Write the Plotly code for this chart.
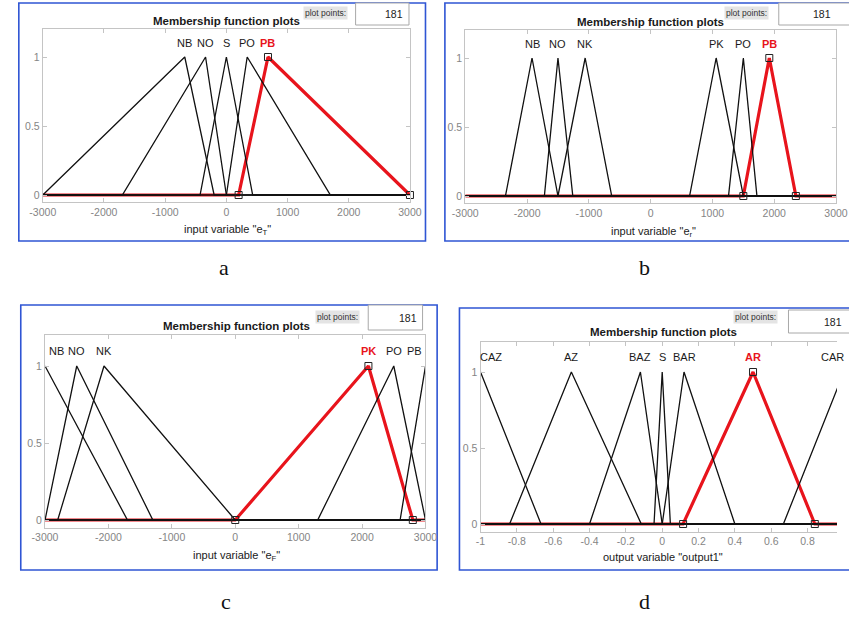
import plotly.graph_objects as go

FIG_W, FIG_H = 849, 621

# ---------------- membership functions: [left foot, peak, right foot] ----------------
a_names = ["NB", "NO", "S", "PO", "PB"]
a_mf = [[-3000, -680, -200], [-1700, -340, 0], [-430, 0, 430], [0, 340, 1700], [200, 680, 3000]]
a_label_x = [-680, -340, 0, 340, 680]
a_span = [-3000, 3000]
a_selected = "PB"
a_xlabel = 'input variable "e<sub>T</sub>"'
a_xticks = [-3000, -2000, -1000, 0, 1000, 2000, 3000]
a_xticktext = ["-3000", "-2000", "-1000", "0", "1000", "2000", "3000"]

b_names = ["NB", "NO", "NK", "PK", "PO", "PB"]
b_mf = [[-2350, -1920, -1500], [-1720, -1500, -1260], [-1500, -1060, -630],
        [630, 1060, 1500], [1260, 1500, 1720], [1500, 1920, 2350]]
b_label_x = [-1920, -1500, -1060, 1060, 1500, 1920]
b_span = [-3000, 3000]
b_selected = "PB"
b_xlabel = 'input variable "e<sub>r</sub>"'
b_xticks = [-3000, -2000, -1000, 0, 1000, 2000, 3000]
b_xticktext = ["-3000", "-2000", "-1000", "0", "1000", "2000", "3000"]

c_names = ["NB", "NO", "NK", "PK", "PO", "PB"]
c_mf = [[-3000, -3000, -1700], [-3000, -2500, -1300], [-2800, -2070, 0],
        [0, 2100, 2800], [1300, 2500, 3000], [2600, 3000, 3000]]
c_label_x = [-2820, -2500, -2070, 2100, 2500, 2820]
c_span = [-3000, 3000]
c_selected = "PK"
c_xlabel = 'input variable "e<sub>F</sub>"'
c_xticks = [-3000, -2000, -1000, 0, 1000, 2000, 3000]
c_xticktext = ["-3000", "-2000", "-1000", "0", "1000", "2000", "3000"]

d_names = ["CAZ", "AZ", "BAZ", "S", "BAR", "AR", "CAR"]
d_mf = [[-1, -1, -0.667], [-0.84, -0.5, -0.115], [-0.4, -0.12, 0], [-0.045, 0, 0.045],
        [0, 0.12, 0.4], [0.115, 0.5, 0.84], [0.667, 1, 1]]
d_label_x = [-0.94, -0.5, -0.12, 0, 0.12, 0.5, 0.94]
d_span = [-1, 1]
d_selected = "AR"
d_xlabel = 'output variable "output1"'
d_xticks = [-1, -0.8, -0.6, -0.4, -0.2, 0, 0.2, 0.4, 0.6, 0.8, 1]
d_xticktext = ["-1", "-0.8", "-0.6", "-0.4", "-0.2", "0", "0.2", "0.4", "0.6", "0.8", "1"]

y_ticks = [0, 0.5, 1]
y_ticktext = ["0", "0.5", "1"]
plot_points = "181"
panel_letters = ["a", "b", "c", "d"]

# ---------------- geometry (pixels) ----------------
def fx(p):
    return p / FIG_W


def fy(p):
    return 1 - p / FIG_H


panels = [
    dict(names=a_names, mf=a_mf, lx=a_label_x, span=a_span, sel=a_selected, xlabel=a_xlabel,
         xt=a_xticks, xtt=a_xticktext, view=a_span,
         ax=(30.7, 409), ay=(29.4, 201.9), box=(6, 3, 425, 241),
         title=(220, 21), pp=(322, 13.5), ppbox=(353, 3, 408, 25), ppnum=404,
         xl=(221, 230), letter=(217, 268), mirror_y=True),
    dict(names=b_names, mf=b_mf, lx=b_label_x, span=b_span, sel=b_selected, xlabel=b_xlabel,
         xt=b_xticks, xtt=b_xticktext, view=b_span,
         ax=(466, 848), ay=(30.4, 202.9), box=(445, 3, 870, 241),
         title=(657, 22), pp=(756, 13), ppbox=(789, 3, 870, 25), ppnum=845,
         xl=(660, 232), letter=(651, 268), mirror_y=True),
    dict(names=c_names, mf=c_mf, lx=c_label_x, span=c_span, sel=c_selected, xlabel=c_xlabel,
         xt=c_xticks, xtt=c_xticktext, view=c_span,
         ax=(33, 425), ay=(335.2, 527.7), box=(8, 305, 437, 570),
         title=(230, 326), pp=(334, 317), ppbox=(366, 305, 422, 330), ppnum=418,
         xl=(230, 556), letter=(219, 601), mirror_y=True),
    dict(names=d_names, mf=d_mf, lx=d_label_x, span=d_span, sel=d_selected, xlabel=d_xlabel,
         xt=d_xticks, xtt=d_xticktext, view=[-1, -1 + (849 - 481.7) / 187.2],
         ax=(481.7, 849), ay=(341.6, 531.6), box=(460, 308, 870, 570),
         title=(670, 332), pp=(765, 316.5), ppbox=(799, 310, 870, 333), ppnum=856,
         xl=(670, 557), letter=(651, 601), mirror_y=False),
]

FONT = "Liberation Sans, Arial, sans-serif"
RED = "#e8141c"
BLUE = "#2f55d4"
AXIS_GRAY = "#c4c4c4"
TICK_GRAY = "#858585"

fig = go.Figure()
shapes = []
annotations = []
layout_axes = {}


def mf_polyline(params, span):
    a, b, c = params
    xs, ys = [], []
    if a > span[0]:
        xs.append(span[0]); ys.append(0)
    if a < b:
        xs.append(a); ys.append(0)
    xs.append(b); ys.append(1)
    if c > b:
        xs.append(c); ys.append(0)
    if c < span[1]:
        xs.append(span[1]); ys.append(0)
    return xs, ys


for i, p in enumerate(panels, start=1):
    xa = "x" if i == 1 else f"x{i}"
    ya = "y" if i == 1 else f"y{i}"
    sel_idx = p["names"].index(p["sel"])

    # selected function first (thick red), black ones on top
    sx, sy = mf_polyline(p["mf"][sel_idx], p["span"])
    fig.add_trace(go.Scatter(x=sx, y=sy, mode="lines", xaxis=xa, yaxis=ya,
                             line=dict(color=RED, width=3.2), hoverinfo="skip"))
    for k, params in enumerate(p["mf"]):
        if k == sel_idx:
            continue
        xs, ys = mf_polyline(params, p["span"])
        fig.add_trace(go.Scatter(x=xs, y=ys, mode="lines", xaxis=xa, yaxis=ya,
                                 line=dict(color="#111111", width=1.3), hoverinfo="skip"))
    # vertex handles of the selected function
    sa, sb, sc = p["mf"][sel_idx]
    fig.add_trace(go.Scatter(x=[sa, sb, sc], y=[0, 1, 0], mode="markers", xaxis=xa, yaxis=ya,
                             cliponaxis=False,
                             marker=dict(symbol="square-open", size=7, color="#222222",
                                         line=dict(width=1)),
                             hoverinfo="skip"))

    # function names
    for name, lx in zip(p["names"], p["lx"]):
        is_sel = name == p["sel"]
        annotations.append(dict(
            x=lx, y=1.1, xref=xa, yref=ya, showarrow=False,
            text=f"<b>{name}</b>" if is_sel else name,
            font=dict(family=FONT, size=11, color=RED if is_sel else "#1a1a1a"),
            xanchor="center", yanchor="middle"))

    xkey = "xaxis" if i == 1 else f"xaxis{i}"
    ykey = "yaxis" if i == 1 else f"yaxis{i}"
    layout_axes[xkey] = dict(
        domain=[fx(p["ax"][0]), fx(p["ax"][1])], range=p["view"], anchor=ya,
        tickvals=p["xt"], ticktext=p["xtt"], ticks="inside", ticklen=4,
        tickcolor=AXIS_GRAY, showline=True, linecolor=AXIS_GRAY, linewidth=1,
        mirror="ticks", showgrid=False, zeroline=False, fixedrange=True,
        tickfont=dict(family=FONT, size=10.5, color=TICK_GRAY))
    layout_axes[ykey] = dict(
        domain=[fy(p["ay"][1]), fy(p["ay"][0])], range=[-0.05, 1.2], anchor=xa,
        tickvals=y_ticks, ticktext=y_ticktext, ticks="inside", ticklen=4,
        tickcolor=AXIS_GRAY, showline=True, linecolor=AXIS_GRAY, linewidth=1,
        mirror="ticks" if p["mirror_y"] else False, showgrid=False, zeroline=False,
        fixedrange=True, tickfont=dict(family=FONT, size=10.5, color=TICK_GRAY))

    # panel frame
    x0, y0, x1, y1 = p["box"]
    shapes.append(dict(type="rect", xref="paper", yref="paper",
                       x0=fx(x0), x1=fx(x1), y0=fy(y1), y1=fy(y0),
                       line=dict(color=BLUE, width=1.6), layer="below"))
    # plot points field
    bx0, by0, bx1, by1 = p["ppbox"]
    shapes.append(dict(type="rect", xref="paper", yref="paper",
                       x0=fx(bx0), x1=fx(bx1), y0=fy(by1), y1=fy(by0),
                       line=dict(color="#a8a8a8", width=1), fillcolor="white"))
    annotations.append(dict(x=fx(p["ppnum"]), y=fy((by0 + by1) / 2),
                            xref="paper", yref="paper", showarrow=False, text=plot_points,
                            xanchor="right", yanchor="middle",
                            font=dict(family=FONT, size=10.5, color="#222222")))
    annotations.append(dict(x=fx(p["pp"][0]), y=fy(p["pp"][1]), xref="paper", yref="paper",
                            showarrow=False, text="plot points:", bgcolor="#e4e4e4",
                            borderpad=1, xanchor="center", yanchor="middle",
                            font=dict(family=FONT, size=8.5, color="#333333")))
    # title
    annotations.append(dict(x=fx(p["title"][0]), y=fy(p["title"][1]), xref="paper", yref="paper",
                            showarrow=False, text="<b>Membership function plots</b>",
                            xanchor="center", yanchor="middle",
                            font=dict(family=FONT, size=11.5, color="#1a1a1a")))
    # axis label
    annotations.append(dict(x=fx(p["xl"][0]), y=fy(p["xl"][1]), xref="paper", yref="paper",
                            showarrow=False, text=p["xlabel"], xanchor="center",
                            yanchor="middle", font=dict(family=FONT, size=11, color="#1a1a1a")))
    # panel letter
    annotations.append(dict(x=fx(p["letter"][0]), y=fy(p["letter"][1]), xref="paper",
                            yref="paper", showarrow=False, text=panel_letters[i - 1],
                            xanchor="center", yanchor="middle",
                            font=dict(family="Liberation Serif, Times New Roman, serif",
                                      size=22, color="#111111")))

fig.update_layout(
    width=FIG_W, height=FIG_H,
    margin=dict(l=0, r=0, t=0, b=0),
    paper_bgcolor="white", plot_bgcolor="white",
    showlegend=False, hovermode=False,
    shapes=shapes, annotations=annotations,
    **layout_axes,
)

fig.write_html("out.html", config={"displayModeBar": False})
